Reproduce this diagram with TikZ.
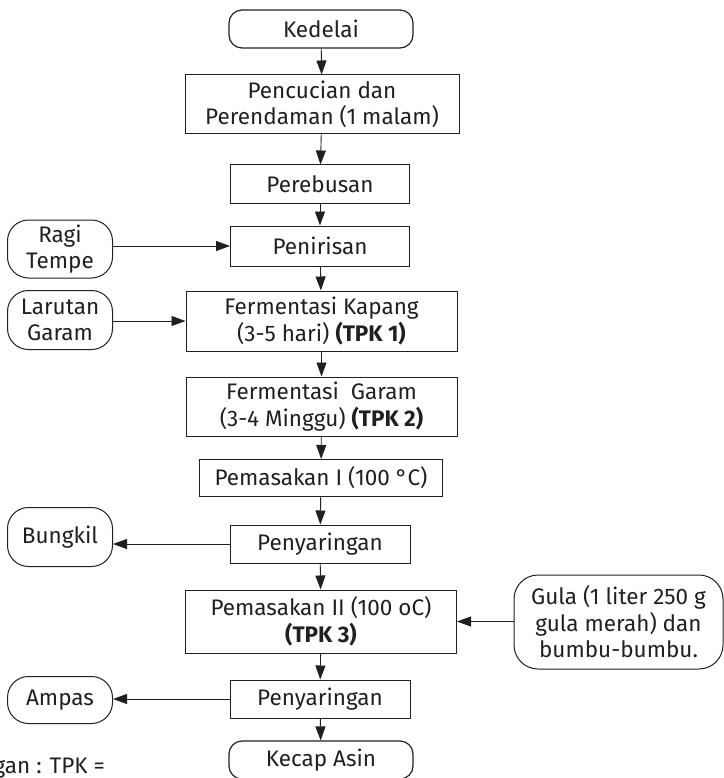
\documentclass[tikz,border=0pt]{standalone}
\usepackage{fontspec}
\setmainfont{Fira Sans}
\usetikzlibrary{arrows.meta}
\definecolor{ink}{HTML}{231F20}
\begin{document}
\begin{tikzpicture}[x=1pt,y=-1pt,
  every node/.style={font=\fontsize{22.5}{26.5}\selectfont, text=ink, align=center, inner sep=0pt},
  proc/.style={draw=ink, line width=1pt, minimum height=38pt},
  term/.style={draw=ink, line width=1.2pt, rounded corners=13pt, minimum height=38pt},
  side/.style={draw=ink, line width=1pt, rounded corners=21pt, minimum width=105pt},
  conn/.style={draw=ink, line width=0.9pt, -{Triangle[length=14pt,width=10pt]}}
]
\useasboundingbox (0,0) rectangle (723,778);
\node[term, minimum width=184pt] (kedelai) at (321,29) {Kedelai};
\node[proc, minimum width=274pt, minimum height=59pt] (cuci) at (322,104.5) {Pencucian dan\\Perendaman (1 malam)};
\node[proc, minimum width=179pt] (rebus) at (320,184) {Perebusan};
\node[proc, minimum width=179pt, minimum height=40pt] (tiris) at (320,246) {Penirisan};
\node[side, minimum height=58pt] (ragi) at (60,249) {Ragi\\Tempe};
\node[proc, minimum width=271pt, minimum height=60pt] (fk) at (321.5,321) {Fermentasi Kapang\\(3-5 hari) \textbf{(TPK 1)}};
\node[side, minimum height=59pt] (garam) at (60,320) {Larutan\\Garam};
\node[proc, minimum width=271pt, minimum height=59pt] (fg) at (321.5,406.5) {Fermentasi\ \ Garam\\(3-4 Minggu) \textbf{(TPK 2)}};
\node[proc, minimum width=243pt, minimum height=37pt] (masak1) at (321,478) {Pemasakan I (100 °C)};
\node[proc, minimum width=180pt] (saring1) at (320,544) {Penyaringan};
\node[side, minimum height=59pt] (bungkil) at (60,537) {Bungkil};
\node[proc, minimum width=271pt, minimum height=63pt] (masak2) at (321,621.5) {Pemasakan II (100 oC)\\\textbf{(TPK 3)}};
\node[side, minimum width=209pt, minimum height=94pt, rounded corners=24pt] (gula) at (618.5,622) {Gula (1 liter 250 g\\gula merah) dan\\bumbu-bumbu.};
\node[proc, minimum width=180pt] (saring2) at (320,699) {Penyaringan};
\node[side, minimum height=47pt] (ampas) at (60,700) {Ampas};
\node[term, minimum width=184pt] (kecap) at (321,760) {Kecap Asin};
\node[anchor=base east] (ket) at (105,773) {Keterangan : TPK =};
\draw[conn] (kedelai) -- (cuci);
\draw[conn] (cuci) -- (rebus);
\draw[conn] (rebus) -- (tiris);
\draw[conn] (tiris) -- (fk);
\draw[conn] (fk) -- (fg);
\draw[conn] (fg) -- (masak1);
\draw[conn] (masak1) -- (saring1);
\draw[conn] (saring1) -- (masak2);
\draw[conn] (masak2) -- (saring2);
\draw[conn] (saring2) -- (kecap);
\draw[conn] (ragi.east |- tiris) -- (tiris.west);
\draw[conn] (garam.east |- fk) -- (fk.west);
\draw[conn] (saring1.west) -- (bungkil.east |- saring1);
\draw[conn] (gula.west |- masak2) -- (masak2.east);
\draw[conn] (saring2.west) -- (ampas.east |- saring2);
\end{tikzpicture}
\end{document}
